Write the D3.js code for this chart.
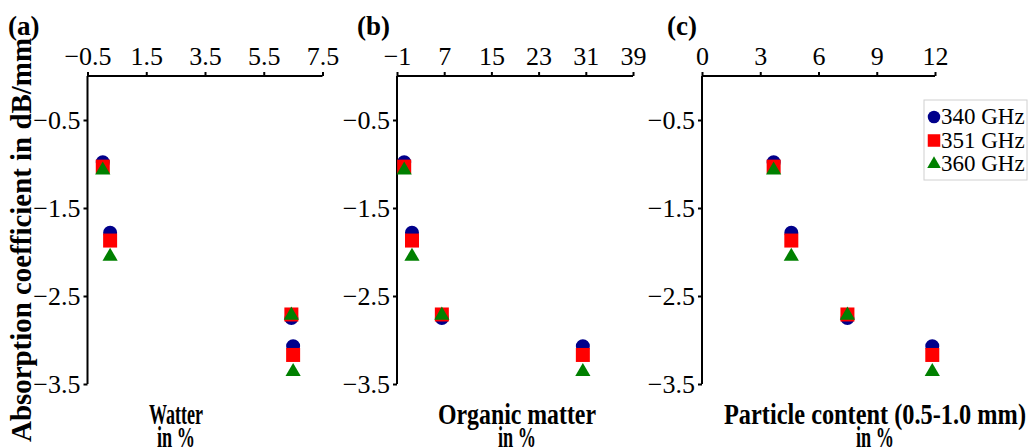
<!DOCTYPE html>
<html>
<head>
<meta charset="utf-8">
<script src="https://cdn.jsdelivr.net/npm/d3@7"></script>
<style>
  body { margin: 0; background: #fff; }
  svg text { font-family: "Liberation Serif", Tinos, "Times New Roman", Times, serif; }
</style>
</head>
<body>
<div id="chart"></div>
<script>
// sample x values per panel (same four samples in each panel)
const waterPct = [0.02, 0.27, 6.44, 6.5]
const organicPct = [0.22, 1.54, 6.6, 30.5]
const particlePct = [3.69, 4.6, 7.49, 11.86]

// absorption coefficient (dB/mm) per frequency, same sample order
const freqLabels = ['340 GHz', '351 GHz', '360 GHz']
const abs340 = [-0.98, -1.78, -2.75, -3.07]
const abs351 = [-1.03, -1.87, -2.71, -3.17]
const abs360 = [-1.07, -2.05, -2.72, -3.36]

const waterTicks = [-0.5, 1.5, 3.5, 5.5, 7.5]
const organicTicks = [-1, 7, 15, 23, 31, 39]
const particleTicks = [0, 3, 6, 9, 12]
const yTicks = [-0.5, -1.5, -2.5, -3.5]

const width = 1030
const height = 448

const svg = d3
  .select('#chart')
  .append('svg')
  .attr('width', width)
  .attr('height', height)

const yTop = 76
const yBottom = 384

const yPositionScale = d3.scaleLinear().domain([0, -3.5]).range([yTop, yBottom])

const colors = ['#00008b', '#ff0000', '#008000']
const shapes = [d3.symbolCircle, d3.symbolSquare, d3.symbolTriangle]
const sizes = [154, 196, 100]

const series = [abs340, abs351, abs360]

const panels = [
  {
    letter: '(a)',
    letterX: 8,
    xs: waterPct,
    domain: [-0.5, 7.5],
    ticks: waterTicks,
    range: [87.5, 322.5],
    title: ['Watter', 'in %'],
    titleX: 176,
    titleLen: 54
  },
  {
    letter: '(b)',
    letterX: 357,
    xs: organicPct,
    domain: [-1, 39],
    ticks: organicTicks,
    range: [397, 633],
    title: ['Organic matter', 'in %'],
    titleX: 517,
    titleLen: 158
  },
  {
    letter: '(c)',
    letterX: 667,
    xs: particlePct,
    domain: [0, 12],
    ticks: particleTicks,
    range: [702, 935],
    title: ['Particle content (0.5-1.0 mm)', 'in %'],
    titleX: 875,
    titleLen: 302
  }
]

panels.forEach(function(p) {
  const xPositionScale = d3.scaleLinear().domain(p.domain).range(p.range)

  const xAxis = d3
    .axisTop(xPositionScale)
    .tickValues(p.ticks)
    .tickFormat(d3.format('~g'))
    .tickSize(4)
    .tickSizeOuter(0)
    .tickPadding(7)

  const gx = svg
    .append('g')
    .attr('class', 'axis x-axis')
    .attr('transform', 'translate(0,' + yTop + ')')
    .call(xAxis)

  const yAxis = d3
    .axisLeft(yPositionScale)
    .tickValues(yTicks)
    .tickFormat(d3.format('.1f'))
    .tickSize(4)
    .tickSizeOuter(0)
    .tickPadding(3)

  const gy = svg
    .append('g')
    .attr('class', 'axis y-axis')
    .attr('transform', 'translate(' + p.range[0] + ',0)')
    .call(yAxis)

  // y axis line only from 0 down to -3.5
  gy.select('.domain').attr('d', 'M0,' + yTop + 'V' + yBottom)
  gx.select('.domain').attr('d', 'M' + p.range[0] + ',0H' + p.range[1])

  svg
    .selectAll('.axis path, .axis line')
    .attr('stroke', '#000')
    .attr('stroke-width', 2)
  svg
    .selectAll('.axis text')
    .style('font-size', '26px')
    .attr('fill', '#000')

  svg
    .append('text')
    .text(p.letter)
    .attr('x', p.letterX)
    .attr('y', 35)
    .style('font-size', '27px')
    .style('font-weight', 'bold')

  series.forEach(function(vals, i) {
    svg
      .append('g')
      .selectAll('path')
      .data(vals)
      .enter()
      .append('path')
      .attr('d', d3.symbol().type(shapes[i]).size(sizes[i]))
      .attr('transform', function(d, j) {
        return 'translate(' + xPositionScale(p.xs[j]) + ',' + yPositionScale(d) + ')'
      })
      .attr('fill', colors[i])
  })

  svg
    .append('text')
    .text(p.title[0])
    .attr('x', p.titleX)
    .attr('y', 424)
    .attr('text-anchor', 'middle')
    .style('font-size', '30px')
    .style('font-weight', 'bold')
    .attr('textLength', p.titleLen)
    .attr('lengthAdjust', 'spacingAndGlyphs')

  svg
    .append('text')
    .text(p.title[1])
    .attr('x', p.titleX)
    .attr('y', 447)
    .attr('text-anchor', 'middle')
    .style('font-size', '30px')
    .style('font-weight', 'bold')
    .attr('textLength', 38)
    .attr('lengthAdjust', 'spacingAndGlyphs')
})

// y axis title
svg
  .append('text')
  .text('Absorption coefficient in dB/mm')
  .attr('transform', 'translate(31,240) rotate(-90)')
  .attr('text-anchor', 'middle')
  .style('font-size', '30px')
  .style('font-weight', 'bold')
  .attr('textLength', 404)
  .attr('lengthAdjust', 'spacingAndGlyphs')

// legend
const legend = svg.append('g').attr('transform', 'translate(924,100)')
legend
  .append('rect')
  .attr('width', 103)
  .attr('height', 80)
  .attr('fill', '#fff')
  .attr('stroke', '#d0d0d0')
  .attr('stroke-width', 1)

freqLabels.forEach(function(label, i) {
  const y = 17 + i * 23.5
  legend
    .append('path')
    .attr('d', d3.symbol().type(shapes[i]).size(sizes[i] * 0.8))
    .attr('transform', 'translate(10,' + y + ')')
    .attr('fill', colors[i])
  legend
    .append('text')
    .text(label)
    .attr('x', 17)
    .attr('y', y + 7)
    .style('font-size', '23px')
})
</script>
</body>
</html>
